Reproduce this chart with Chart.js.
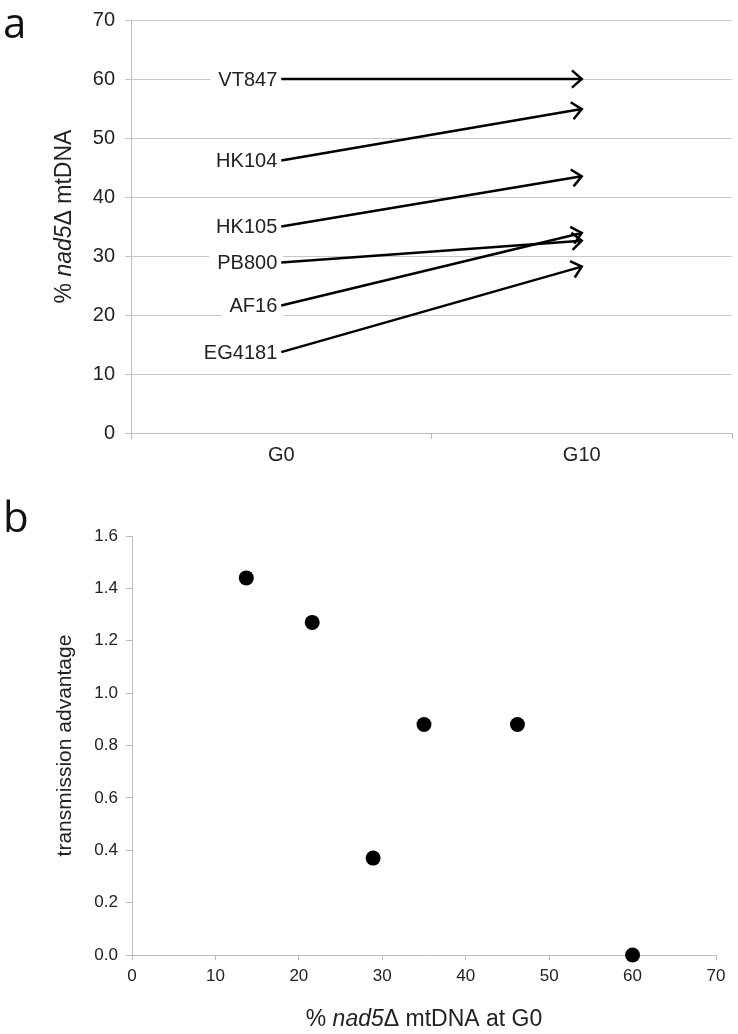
<!DOCTYPE html>
<html>
<head>
<meta charset="utf-8">
<script src="https://cdn.jsdelivr.net/npm/chart.js@4.4.1/dist/chart.umd.min.js"></script>
<style>
  html, body { margin: 0; padding: 0; background: #fff; }
  #wrap { width: 738px; height: 1034px; position: relative; overflow: hidden; }
  canvas { display: block; }
</style>
</head>
<body>
<div id="wrap">
  <div style="width:738px;height:480px"><canvas id="chartA"></canvas></div>
  <div style="width:738px;height:554px"><canvas id="chartB"></canvas></div>
</div>
<script>
// values
var generations = ['G0', 'G10'];
var strains = ['VT847', 'HK104', 'HK105', 'PB800', 'AF16', 'EG4181'];
var pctG0 = [60.0, 46.2, 35.0, 28.9, 21.6, 13.7];
var pctG10 = [60.0, 54.9, 43.5, 32.6, 33.9, 28.2];
var advantage = [0.0, 0.88, 0.88, 0.37, 1.27, 1.44];
var yTicksA = [0, 10, 20, 30, 40, 50, 60, 70];
var xTicksB = [0, 10, 20, 30, 40, 50, 60, 70];

var FONT = '"Liberation Sans", Arial, sans-serif';
var GRID = '#c8c8c8';
var AXIS = '#bcbcbc';
var TEXT = '#222';

Chart.defaults.font.family = FONT;
Chart.defaults.color = TEXT;
Chart.defaults.animation = false;
Chart.defaults.plugins.legend.display = false;
Chart.defaults.plugins.tooltip.enabled = false;

// draws a run of text pieces, some italic, centred on (x, y)
function drawRich(ctx, parts, x, y, size, rotated) {
  ctx.save();
  ctx.translate(x, y);
  if (rotated) ctx.rotate(-Math.PI / 2);
  ctx.fillStyle = TEXT;
  ctx.textBaseline = 'middle';
  ctx.textAlign = 'left';
  var total = 0;
  parts.forEach(function (p) {
    ctx.font = (p.italic ? 'italic ' : '') + size + 'px ' + FONT;
    p.w = ctx.measureText(p.t).width;
    total += p.w;
  });
  var cx = -total / 2;
  parts.forEach(function (p) {
    ctx.font = (p.italic ? 'italic ' : '') + size + 'px ' + FONT;
    ctx.fillText(p.t, cx, 0);
    cx += p.w;
  });
  ctx.restore();
}

function panelLetter(ctx, letter, x, y) {
  ctx.save();
  ctx.font = '42px "Open Sans", "Noto Sans", sans-serif';
  ctx.fillStyle = '#111';
  ctx.textBaseline = 'alphabetic';
  ctx.fillText(letter, x, y);
  ctx.restore();
}

// strain names at the G0 end, on a white patch that breaks the grid lines
var strainLabels = {
  id: 'strainLabels',
  beforeDatasetsDraw: function (chart) {
    var ctx = chart.ctx;
    ctx.save();
    ctx.font = '20px ' + FONT;
    ctx.textBaseline = 'middle';
    ctx.textAlign = 'right';
    chart.data.datasets.forEach(function (ds, i) {
      var p = chart.getDatasetMeta(i).data[0];
      var w = ctx.measureText(ds.label).width;
      ctx.fillStyle = '#fff';
      ctx.fillRect(p.x - 4 - w - 8, p.y - 12, w + 14, 24);
      ctx.fillStyle = TEXT;
      ctx.fillText(ds.label, p.x - 4, p.y + 1);
    });
    ctx.restore();
  },
  afterDatasetsDraw: function (chart) {
    // open arrowheads at the G10 end
    var ctx = chart.ctx;
    ctx.save();
    ctx.strokeStyle = '#000';
    ctx.lineWidth = 2.5;
    ctx.lineJoin = 'miter';
    chart.data.datasets.forEach(function (ds, i) {
      var pts = chart.getDatasetMeta(i).data;
      var a = pts[0], b = pts[1];
      var ang = Math.atan2(b.y - a.y, b.x - a.x);
      var len = 13, spread = 0.72;
      ctx.beginPath();
      ctx.moveTo(b.x - len * Math.cos(ang - spread), b.y - len * Math.sin(ang - spread));
      ctx.lineTo(b.x, b.y);
      ctx.lineTo(b.x - len * Math.cos(ang + spread), b.y - len * Math.sin(ang + spread));
      ctx.stroke();
    });
    ctx.restore();
  },
  afterDraw: function (chart) {
    var ca = chart.chartArea;
    drawRich(chart.ctx, [{t: '% '}, {t: 'nad5', italic: true}, {t: '\u0394 mtDNA'}],
      65, (ca.top + ca.bottom) / 2 - 10, 23, true);
    panelLetter(chart.ctx, 'a', 3, 38);
  }
};

var scatterTitles = {
  id: 'scatterTitles',
  afterDraw: function (chart) {
    var ca = chart.chartArea;
    drawRich(chart.ctx, [{t: 'transmission advantage'}], 65, (ca.top + ca.bottom) / 2, 21, true);
    drawRich(chart.ctx, [{t: '% '}, {t: 'nad5', italic: true}, {t: '\u0394 mtDNA at G0'}],
      (ca.left + ca.right) / 2, ca.bottom + 65, 23, false);
    panelLetter(chart.ctx, 'b', 3, 52);
  }
};

var arrowSets = strains.map(function (name, i) {
  return {
    label: name,
    data: [pctG0[i], pctG10[i]],
    borderColor: '#000',
    borderWidth: 2.5,
    pointRadius: 0,
    fill: false,
    tension: 0
  };
});

new Chart(document.getElementById('chartA'), {
  type: 'line',
  data: { labels: generations, datasets: arrowSets },
  options: {
    responsive: true,
    maintainAspectRatio: false,
    layout: { padding: { top: 13, right: 6, left: 0, bottom: 0 } },
    scales: {
      x: {
        type: 'category',
        offset: true,
        grid: { offset: true, drawOnChartArea: false, tickLength: 6, color: AXIS },
        border: { color: AXIS },
        ticks: { font: { size: 20, lineHeight: 1.2 }, padding: 4, color: TEXT },
        afterFit: function (s) { s.height = 47; }
      },
      y: {
        min: 0, max: 70,
        afterBuildTicks: function (s) { s.ticks = yTicksA.map(function (v) { return { value: v }; }); },
        grid: { color: GRID, tickLength: 6 },
        border: { color: AXIS },
        ticks: { font: { size: 20, lineHeight: 1 }, padding: 10, color: TEXT },
        afterFit: function (s) { s.width = 131; }
      }
    }
  },
  plugins: [strainLabels]
});

new Chart(document.getElementById('chartB'), {
  type: 'scatter',
  data: {
    datasets: [{
      data: pctG0.map(function (x, i) { return { x: x, y: advantage[i] }; }),
      backgroundColor: '#000',
      borderColor: '#000',
      pointRadius: 7.5,
      pointBorderWidth: 0,
      clip: false
    }]
  },
  options: {
    responsive: true,
    maintainAspectRatio: false,
    layout: { padding: { top: 56, right: 22, left: 0, bottom: 0 } },
    scales: {
      x: {
        type: 'linear', min: 0, max: 70,
        afterBuildTicks: function (s) { s.ticks = xTicksB.map(function (v) { return { value: v }; }); },
        grid: { drawOnChartArea: false, tickLength: 5, color: AXIS },
        border: { color: AXIS },
        ticks: { font: { size: 17, lineHeight: 1.2 }, padding: 6, color: TEXT },
        afterFit: function (s) { s.height = 79; }
      },
      y: {
        type: 'linear', min: 0, max: 1.6,
        ticks: {
          stepSize: 0.2, font: { size: 17, lineHeight: 1 }, padding: 8, color: TEXT,
          callback: function (v) { return Number(v).toFixed(1); }
        },
        grid: { drawOnChartArea: false, tickLength: 6, color: AXIS },
        border: { color: AXIS },
        afterFit: function (s) { s.width = 132; }
      }
    }
  },
  plugins: [scatterTitles]
});
</script>
</body>
</html>
